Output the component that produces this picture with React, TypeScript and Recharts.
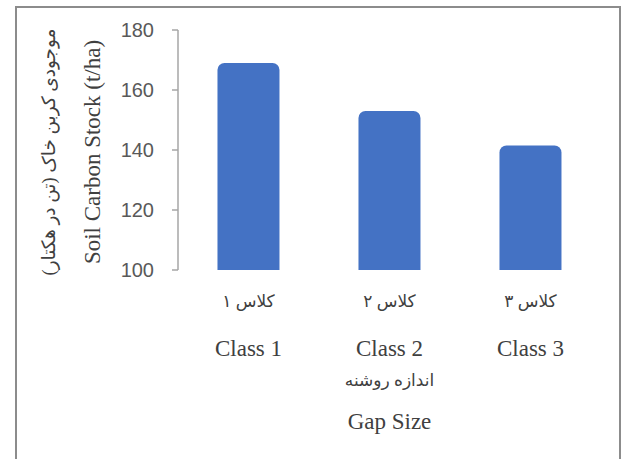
import { BarChart, Bar, XAxis, YAxis } from "recharts";

const classesFa = ["کلاس ۱", "کلاس ۲", "کلاس ۳"];
const classesEn = ["Class 1", "Class 2", "Class 3"];
const carbonStock = [169.0, 153.0, 141.5];
const yTicks = [100, 120, 140, 160, 180];

const yTitleFa = "موجودی کربن خاک (تن در هکتار)";
const yTitleEn = "Soil Carbon Stock (t/ha)";
const xTitleFa = "اندازه روشنه";
const xTitleEn = "Gap Size";

const data = classesEn.map((name, i) => ({
  name,
  fa: classesFa[i],
  stock: carbonStock[i],
}));

const serif = '"Times New Roman", "Liberation Serif", "DejaVu Serif", serif';
const faFont = '"Times New Roman", "Liberation Serif", "DejaVu Sans", sans-serif';
const textColor = "#404040";

const ClassTick = (props: any) => {
  const { x, y, index } = props;
  return (
    <g>
      <text x={x} y={y + 37} textAnchor="middle" fontFamily={faFont} fontSize={17} fill={textColor} direction="rtl">
        {classesFa[index]}
      </text>
      <text x={x} y={y + 86} textAnchor="middle" fontFamily={serif} fontSize={23} fill={textColor}>
        {classesEn[index]}
      </text>
    </g>
  );
};

const XTitle = (props: any) => {
  const { viewBox } = props;
  const cx = viewBox.x + viewBox.width / 2;
  const top = viewBox.y;
  return (
    <g>
      <text x={cx} y={top + 116} textAnchor="middle" fontFamily={faFont} fontSize={17} fill={textColor} direction="rtl">
        {xTitleFa}
      </text>
      <text x={cx} y={top + 159} textAnchor="middle" fontFamily={serif} fontSize={23} fill={textColor}>
        {xTitleEn}
      </text>
    </g>
  );
};

const YTitle = (props: any) => {
  const { viewBox } = props;
  const cy = viewBox.y + viewBox.height / 2 + 2;
  const faX = 49;
  const enX = 92;
  return (
    <g>
      <text
        x={faX}
        y={cy}
        textAnchor="middle"
        dominantBaseline="central"
        transform={`rotate(-90 ${faX} ${cy})`}
        fontFamily={faFont}
        fontSize={18.5}
        fill={textColor}
        direction="rtl"
      >
        {yTitleFa}
      </text>
      <text
        x={enX}
        y={cy}
        textAnchor="middle"
        dominantBaseline="central"
        transform={`rotate(-90 ${enX} ${cy})`}
        fontFamily={serif}
        fontSize={23}
        fill={textColor}
      >
        {yTitleEn}
      </text>
    </g>
  );
};

export default function App() {
  return (
    <div style={{ position: "absolute", left: 0, top: 0, width: 627, height: 459, background: "#fff", overflow: "hidden" }}>
      <div
        style={{
          position: "absolute",
          left: 15,
          top: 6,
          width: 606,
          height: 470,
          border: "2px solid #8c8c8c",
          boxSizing: "border-box",
        }}
      />
      <div style={{ position: "absolute", left: 0, top: 0 }}>
        <BarChart
          width={627}
          height={459}
          data={data}
          margin={{ top: 30, right: 26, bottom: 19, left: 118 }}
          barCategoryGap="28%"
        >
          <XAxis
            dataKey="name"
            axisLine={false}
            tickLine={false}
            tickSize={0}
            tickMargin={0}
            height={170}
            interval={0}
            tick={<ClassTick />}
            label={<XTitle />}
          />
          <YAxis
            domain={[100, 180]}
            ticks={yTicks}
            allowDataOverflow
            width={60}
            axisLine={{ stroke: "#a6a6a6", strokeWidth: 1.5 }}
            tickLine={{ stroke: "#a6a6a6", strokeWidth: 1.5 }}
            tickSize={6}
            tickMargin={18}
            tick={{ fill: "#595959", fontSize: 20, fontFamily: '"Liberation Sans", Arial, sans-serif' }}
            label={<YTitle />}
          />
          <Bar dataKey="stock" fill="#4472C4" radius={[7, 7, 0, 0]} isAnimationActive={false} />
        </BarChart>
      </div>
    </div>
  );
}
